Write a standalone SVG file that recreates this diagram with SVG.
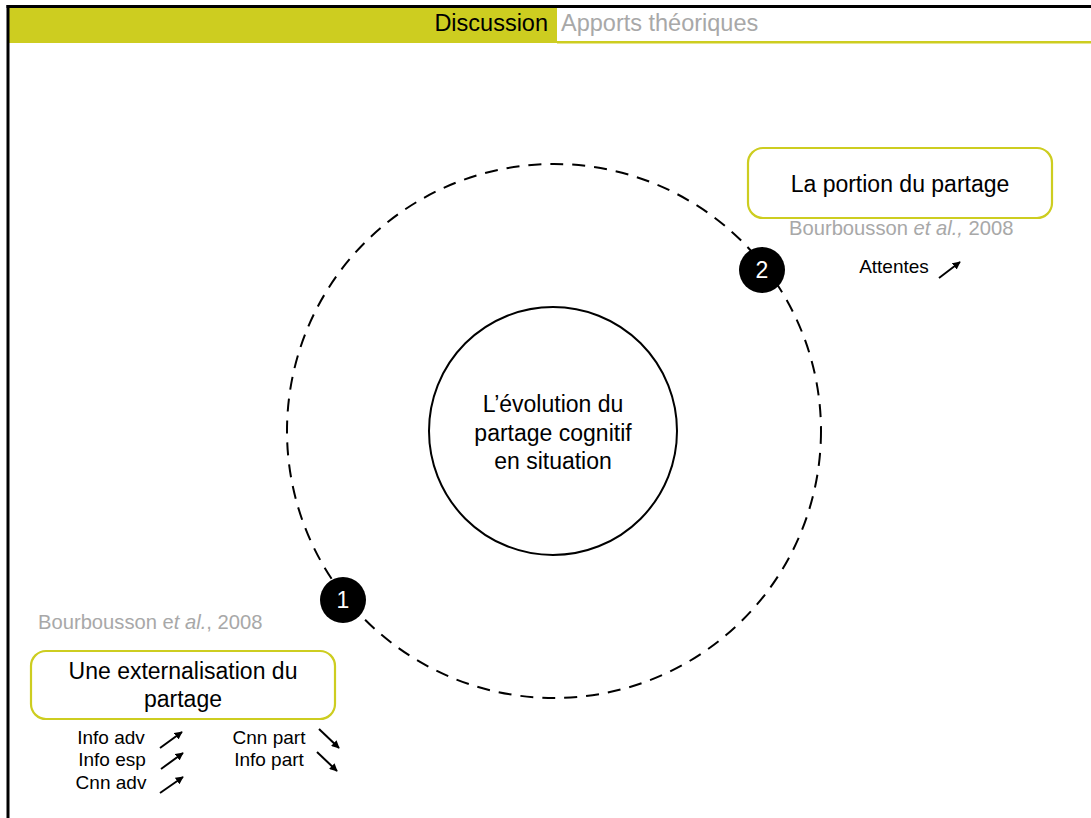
<svg xmlns="http://www.w3.org/2000/svg" width="1091" height="818" viewBox="0 0 1091 818">
<defs>
<style>
text{font-family:"Liberation Sans",Arial,sans-serif;}
.hdr{font-size:23.5px;}
.box{fill:#fff;stroke:#CDCD20;stroke-width:2.2;}
.t23{font-size:23px;fill:#000;text-anchor:middle;}
.cite{font-size:20.2px;fill:#a8a8a8;}
.lbl{font-size:19px;fill:#000;text-anchor:middle;}
.arr{stroke:#000;stroke-width:2;fill:none;marker-end:url(#ah);}
.badge{fill:#000;}
.btxt{font-size:23px;fill:#fff;text-anchor:middle;}
</style>
<marker id="ah" viewBox="0 0 10 10" refX="9" refY="5" markerWidth="4" markerHeight="4" orient="auto" markerUnits="strokeWidth">
<path d="M0,0 L10,5 L0,10 z" fill="#000"/>
</marker>
</defs>
<rect x="0" y="0" width="1091" height="818" fill="#fff"/>
<g id="header">
<rect x="8" y="6" width="549" height="37" fill="#CDCD20"/>
<rect x="557" y="41" width="534" height="2.5" fill="#CDCD20"/>
<line x1="6.5" y1="6.5" x2="1091" y2="6.5" stroke="#000" stroke-width="3"/>
<line x1="8" y1="5" x2="8" y2="818" stroke="#000" stroke-width="3"/>
<text class="hdr" x="548" y="31" text-anchor="end" fill="#000">Discussion</text>
<text class="hdr" x="561" y="31" fill="#a8a8a8">Apports théoriques</text>
</g>
<g id="connectors">
<circle cx="554" cy="431" r="267" fill="none" stroke="#000" stroke-width="2" stroke-dasharray="13 9"/>
<line class="arr" x1="939" y1="278" x2="960" y2="262"/>
<line class="arr" x1="160" y1="748" x2="182" y2="732"/>
<line class="arr" x1="161" y1="769" x2="183" y2="753"/>
<line class="arr" x1="160" y1="793" x2="183" y2="777"/>
<line class="arr" x1="319" y1="729" x2="339" y2="748"/>
<line class="arr" x1="317" y1="752" x2="337" y2="771"/>
</g>
<g id="center-node">
<circle cx="553" cy="431" r="124" fill="#fff" stroke="#000" stroke-width="2"/>
<text class="t23" x="553" y="412">L’évolution du</text>
<text class="t23" x="553" y="441">partage cognitif</text>
<text class="t23" x="553" y="469">en situation</text>
</g>
<g id="badge-1">
<circle class="badge" cx="343" cy="600" r="23"/>
<text class="btxt" x="343" y="608">1</text>
</g>
<g id="badge-2">
<circle class="badge" cx="762" cy="270" r="23"/>
<text class="btxt" x="762" y="278">2</text>
</g>
<g id="node-portion">
<rect class="box" x="748" y="148" width="304" height="70" rx="15"/>
<text class="t23" x="900" y="192">La portion du partage</text>
<text class="cite" x="789" y="235">Bourbousson <tspan font-style="italic">et al.,</tspan> 2008</text>
<text class="lbl" x="894" y="273">Attentes</text>
</g>
<g id="node-externalisation">
<text class="cite" x="38" y="629">Bourbousson e<tspan font-style="italic">t al.</tspan>, 2008</text>
<rect class="box" x="31" y="651" width="304" height="68" rx="15"/>
<text class="t23" x="183" y="679">Une externalisation du</text>
<text class="t23" x="183" y="707">partage</text>
<text class="lbl" x="111" y="744">Info adv</text>
<text class="lbl" x="112" y="766">Info esp</text>
<text class="lbl" x="111" y="789">Cnn adv</text>
<text class="lbl" x="269" y="744">Cnn part</text>
<text class="lbl" x="269" y="766">Info part</text>
</g>
</svg>
